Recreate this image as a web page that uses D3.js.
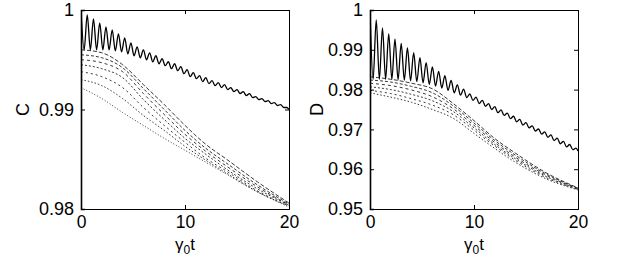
<!DOCTYPE html>
<html>
<head>
<meta charset="utf-8">
<script src="https://cdn.jsdelivr.net/npm/d3@7/dist/d3.min.js"></script>
<style>
html,body{margin:0;padding:0;background:#fff;}
svg{display:block;font-family:"Liberation Sans",Arial,Helvetica,sans-serif;}
</style>
</head>
<body>
<svg id="chart" width="623" height="264"></svg>
<script>
// ---- data ----
const xTicks = [0, 10, 20];
const leftYTicks = [0.98, 0.99, 1];
const rightYTicks = [0.95, 0.96, 0.97, 0.98, 0.99, 1];
const leftYLabel = "C";
const rightYLabel = "D";

// times of successive extrema (peak, trough, peak, ...) of the solid curves
const oscT = [0,0.3,0.6,0.9,1.2,1.5,1.8,2.1,2.4,2.7,3.0,3.3,3.6,3.9,4.2,4.5,4.8,5.1,5.4,5.7,
  6.0,6.3,6.6,6.9,7.2,7.5,7.8,8.1,8.4,8.7,9.0,9.3,9.6,9.9,10.2,10.5,10.8,11.1,11.4,11.7,
  12.0,12.3,12.6,12.9,13.2,13.5,13.8,14.1,14.4,14.7,15.0,15.3,15.6,15.9,16.2,16.5,16.8,17.1,
  17.4,17.7,18.0,18.3,18.6,18.9,19.2,19.5,19.8,20];

const leftSolid = [1.0,.9960,.9995,.9960,.9991,.9960,.9987,.9960,.9983,.9960,.9980,.9959,.9976,.9958,
  .9972,.9956,.9967,.9954,.9963,.9952,.9960,.9950,.9957,.9948,.9954,.9946,.9951,.9944,.9948,.9941,
  .9946,.9939,.9943,.9936,.9940,.9933,.9937,.9931,.9934,.9928,.9932,.9926,.9929,.9924,.9927,.9922,
  .9925,.9920,.9922,.9918,.9920,.9916,.9918,.9914,.9916,.9912,.9913,.9910,.9911,.9908,.9909,.9906,
  .9907,.9904,.9905,.9902,.9902,.9900];

const rightSolid = [1.0,.9826,.9975,.9826,.9955,.9826,.9940,.9826,.9927,.9825,.9916,.9824,.9905,.9822,
  .9893,.9820,.9880,.9817,.9868,.9813,.9857,.9809,.9846,.9804,.9835,.9798,.9823,.9792,.9812,.9786,
  .9801,.9780,.9789,.9773,.9781,.9765,.9773,.9758,.9765,.9750,.9757,.9742,.9749,.9735,.9741,.9727,
  .9733,.9719,.9725,.9711,.9717,.9704,.9709,.9696,.9701,.9688,.9694,.9680,.9686,.9672,.9678,.9664,
  .9670,.9656,.9662,.9649,.9653,.9646];

// dashed family, sampled at these times
const dashT = [0, 2, 4, 6, 8, 10, 12, 14, 17, 20];
const leftDashed = [
  [.9960,.9957,.9945,.9925,.9905,.9884,.9865,.9850,.9827,.9806],
  [.9955,.9952,.9942,.9921,.9900,.9879,.9861,.9846,.9824,.9805],
  [.9950,.9947,.9938,.9916,.9895,.9875,.9858,.9843,.9822,.9804],
  [.9945,.9941,.9932,.9910,.9890,.9871,.9855,.9840,.9820,.9804],
  [.9938,.9933,.9922,.9902,.9884,.9867,.9851,.9838,.9818,.9803],
  [.9930,.9924,.9911,.9894,.9879,.9863,.9849,.9836,.9817,.9803],
  [.9922,.9911,.9897,.9884,.9871,.9859,.9847,.9835,.9817,.9802]
];
const rightDashed = [
  [.9832,.9826,.9816,.9802,.9765,.9722,.9677,.9640,.9590,.9553],
  [.9824,.9819,.9808,.9792,.9759,.9716,.9672,.9635,.9587,.9552],
  [.9816,.9810,.9799,.9782,.9752,.9710,.9667,.9630,.9584,.9551],
  [.9807,.9800,.9788,.9772,.9745,.9704,.9662,.9626,.9581,.9550],
  [.9798,.9790,.9777,.9761,.9737,.9698,.9658,.9622,.9578,.9549],
  [.9792,.9781,.9768,.9750,.9728,.9690,.9652,.9617,.9575,.9548]
];

// ---- drawing ----
const svg = d3.select("#chart");
const dashStyles = ["4,2","3,2","3,3","2,2","2,3","1.5,2","1,2"];

function panel(x0, x1, yDomain, yTicks, solid, dashed, ylab, ylabX) {
  const top = 10, bottom = 209;
  const x = d3.scaleLinear().domain([0, 20]).range([x0, x1]);
  const y = d3.scaleLinear().domain(yDomain).range([bottom, top]);
  const g = svg.append("g");

  const clipId = "clip" + x0;
  svg.append("clipPath").attr("id", clipId).append("rect")
    .attr("x", x0).attr("y", top - 1).attr("width", x1 - x0).attr("height", bottom - top + 2);

  const line = d3.line().x(d => x(d[0])).y(d => y(d[1])).curve(d3.curveMonotoneX);
  const plot = g.append("g").attr("clip-path", `url(#${clipId})`);

  dashed.forEach((vals, i) => {
    plot.append("path")
      .datum(dashT.map((t, j) => [t, vals[j]]))
      .attr("d", line).attr("fill", "none")
      .attr("stroke", "#222").attr("stroke-width", 0.9)
      .attr("stroke-dasharray", dashStyles[i % dashStyles.length]);
  });
  plot.append("path")
    .datum(oscT.map((t, j) => [t, solid[j]]))
    .attr("d", line).attr("fill", "none")
    .attr("stroke", "#000").attr("stroke-width", 1.3);

  // axes (MATLAB style, ticks inward, box)
  const tl = 4;
  const axB = g.append("g").attr("transform", `translate(0,${bottom})`)
    .call(d3.axisBottom(x).tickValues(xTicks).tickSize(-tl).tickPadding(6 + tl).tickFormat(d3.format("d")));
  const axT = g.append("g").attr("transform", `translate(0,${top})`)
    .call(d3.axisTop(x).tickValues(xTicks).tickSize(-tl).tickFormat(""));
  const axL = g.append("g").attr("transform", `translate(${x0},0)`)
    .call(d3.axisLeft(y).tickValues(yTicks).tickSize(-tl).tickPadding(3 + tl).tickFormat(d => d === 1 ? "1" : d3.format(".2f")(d)));
  const axR = g.append("g").attr("transform", `translate(${x1},0)`)
    .call(d3.axisRight(y).tickValues(yTicks).tickSize(-tl).tickFormat(""));
  [axB, axT, axL, axR].forEach(a => {
    a.select(".domain").attr("stroke", "#000").attr("stroke-width", 1);
    a.selectAll(".tick line").attr("stroke", "#000");
    a.selectAll("text").attr("fill", "#000").style("font-size", "18px")
      .style("font-family", '"Liberation Sans",Arial,sans-serif');
  });
  axL.select(".domain").attr("stroke-width", 1.6);
  axB.selectAll(".tick text").attr("dy", "0.71em").attr("y", 7).style("font-size", "17.5px");

  // x label γ0t
  const xl = g.append("text").attr("x", (x0 + x1) / 2).attr("y", 250)
    .attr("text-anchor", "middle").style("font-size", "17px");
  xl.append("tspan").text("γ");
  xl.append("tspan").text("0").attr("dy", 4).style("font-size", "12px");
  xl.append("tspan").text("t").attr("dy", -4);

  g.append("text").attr("transform", `translate(${ylabX},${(top + bottom) / 2}) rotate(-90)`)
    .attr("text-anchor", "middle").style("font-size", "18px").text(ylab);
}

panel(81, 289, [0.98, 1], leftYTicks, leftSolid, leftDashed, leftYLabel, 29);
panel(370, 578, [0.95, 1], rightYTicks, rightSolid, rightDashed, rightYLabel, 323);
</script>
</body>
</html>
